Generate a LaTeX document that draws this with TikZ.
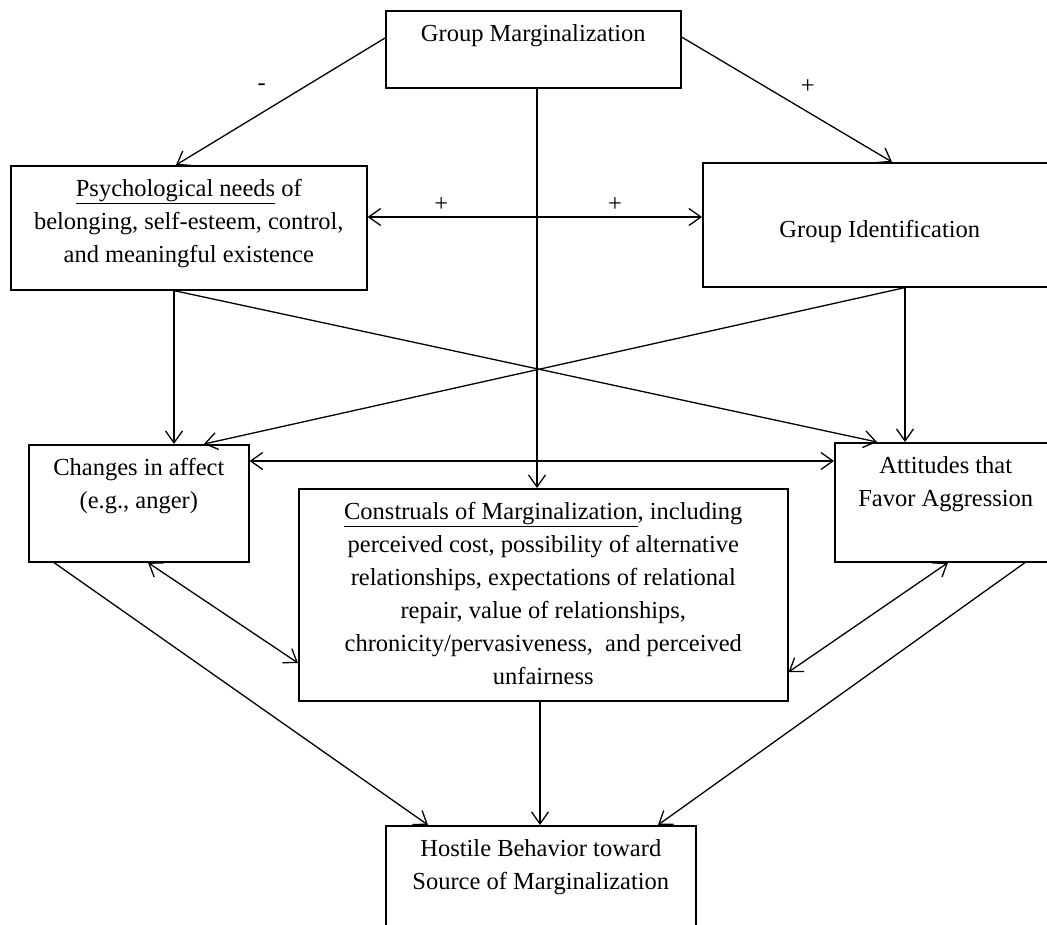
\documentclass[tikz,border=0pt]{standalone}
\usepackage{fontspec}
\setmainfont{Liberation Serif}
\usepackage{tikz}
\usetikzlibrary{arrows.meta,calc}
\newcommand{\boxtext}[4][t]{\parbox[t][#3pt][#1]{#2pt}{\centering\strut #4}}

\begin{document}
\begin{tikzpicture}[
            x=1pt, y=-1pt,
            line width=1.3pt,
            box/.style={draw, line width=1.6pt, inner xsep=0pt, inner ysep=8pt, anchor=north west, font=\fontsize{24.5}{33}\selectfont},
            sign/.style={font=\fontsize{24.5}{33}\selectfont},
            arr/.style={-{Straight Barb[length=12pt,width=17pt]}},
            darr/.style={{Straight Barb[length=12pt,width=17pt]}-{Straight Barb[length=12pt,width=17pt]}}
        ]
            \useasboundingbox (0,0) rectangle (1047,924);
            \clip (0,0) rectangle (1047,924);

            \node [box] (gm) at (385,10) {\boxtext{295}{61}{Group Marginalization}};
            \node [box] (needs) at (10,165) {\boxtext{356}{108}{\underline{Psychological needs} of\\ belonging, self-esteem, control,\\ and meaningful existence}};
            \node [box] (ident) at (702,162) {\boxtext[c]{354}{108}{\raisebox{-7pt}{Group Identification}}};
            \node [box] (affect) at (28,444) {\boxtext{220}{101}{Changes in affect\\ (e.g., anger)}};
            \node [box] (attitudes) at (834,442) {\boxtext{222}{103}{Attitudes that\\ Favor Aggression}};
            \node [box] (construals) at (298,488) {\boxtext{489}{196}{\underline{Construals of Marginalization}, including\\ perceived cost, possibility of alternative\\ relationships, expectations of relational\\ repair, value of relationships,\\ chronicity/pervasiveness,\ \ and perceived\\ unfairness}};
            \node [box] (hostile) at (385,825) {\boxtext{310}{114}{Hostile Behavior toward\\ Source of Marginalization}};

            \draw [arr] ($(gm.north west)+(0,28)$) -- node[sign, pos=0.59, yshift=26pt] (minus) {-} ($(needs.north west)+(166,0)$);
            \draw [arr] ($(gm.north east)+(0,27)$) -- node[sign, pos=0.6, yshift=25pt] (plusident) {+} ($(ident.north west)+(190,0)$);
            \draw [arr] ($(gm.south west)+(152,0)$) -- ($(construals.north west)+(239,0)$);
            \draw [darr] ($(needs.north east)+(0,52)$) -- node[sign, pos=0.22, yshift=12pt] (plusleft) {+} node[sign, pos=0.74, yshift=12pt] (plusright) {+} ($(ident.north west)+(0,55)$);

            \draw [arr] ($(needs.south west)+(164,0)$) -- ($(affect.north west)+(146,0)$);
            \draw [arr] ($(needs.south west)+(164,0)$) -- ($(attitudes.north west)+(43,0)$);
            \draw [arr] ($(ident.south west)+(203,0)$) -- ($(affect.north west)+(176,0)$);
            \draw [arr] ($(ident.south west)+(203,0)$) -- ($(attitudes.north west)+(71,0)$);
            \draw [darr] ($(affect.north east)+(0,17)$) -- ($(attitudes.north west)+(0,19)$);

            \draw [darr] ($(affect.south west)+(120,0)$) -- ($(construals.north west)+(0,175)$);
            \draw [darr] ($(attitudes.south west)+(114,0)$) -- ($(construals.north east)+(0,184)$);
            \draw [arr] ($(affect.south west)+(26,0)$) -- ($(hostile.north west)+(43,0)$);
            \draw [arr] ($(construals.south west)+(242,0)$) -- ($(hostile.north west)+(155,0)$);
            \draw [arr] ($(attitudes.south west)+(191,0)$) -- ($(hostile.north west)+(273,0)$);
        \end{tikzpicture}
\end{document}
